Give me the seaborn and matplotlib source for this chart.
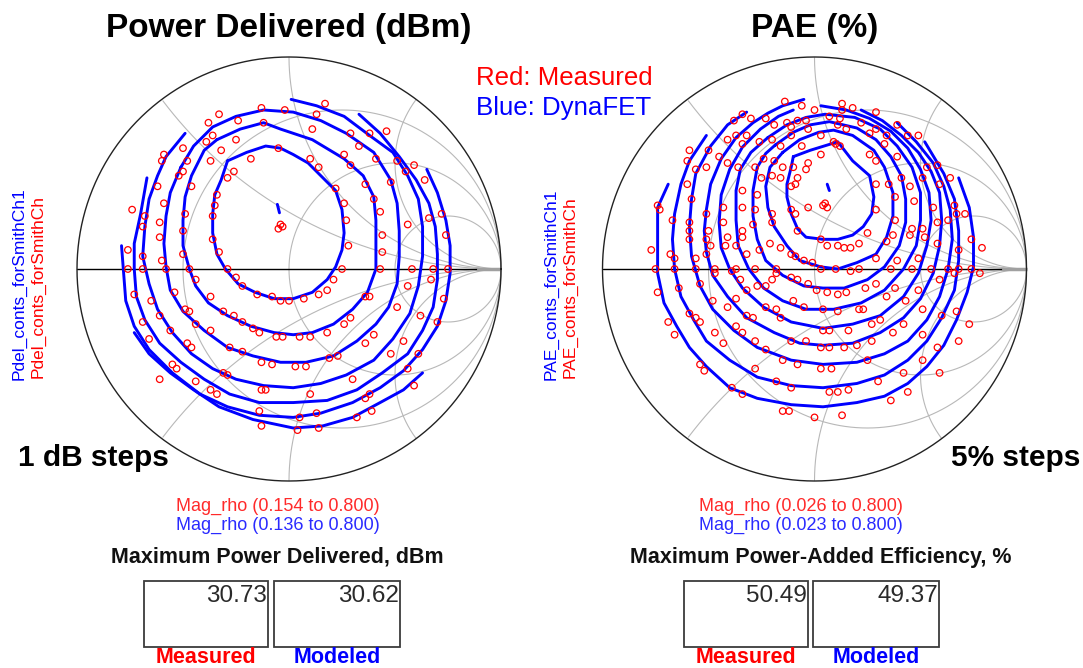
import numpy as np
import pandas as pd
import matplotlib
matplotlib.use("Agg")
import matplotlib.pyplot as plt
from matplotlib.patches import Rectangle
import seaborn as sns

sns.set_theme(style="white")
plt.rcParams['font.family'] = ['Liberation Sans', 'DejaVu Sans']
plt.rcParams['text.color'] = 'black'

# ---------------- DATA (reflection coefficient, real / imag) ----------------
pdel_model_contours = [
    [(-0.29,0.51),(-0.20,0.55),(-0.11,0.58),(-0.04,0.57),(0.02,0.54),(0.09,0.50),(0.16,0.43),(0.22,0.37),(0.25,0.28),(0.26,0.17),(0.25,0.09),(0.22,0.01),(0.18,-0.05),(0.11,-0.11),(0.02,-0.14),(-0.07,-0.14),(-0.16,-0.11),(-0.24,-0.07),(-0.30,0.00),(-0.34,0.07),(-0.36,0.17),(-0.36,0.26),(-0.35,0.35),(-0.32,0.42),(-0.29,0.51)],
    [(-0.34,0.61),(-0.23,0.66),(-0.12,0.69),(-0.04,0.66),(0.11,0.61),(0.26,0.52),(0.35,0.44),(0.40,0.34),(0.41,0.23),(0.41,0.11),(0.41,0.00),(0.37,-0.11),(0.30,-0.19),(0.21,-0.26),(0.11,-0.30),(0.02,-0.31),(-0.07,-0.30),(-0.18,-0.27),(-0.29,-0.22),(-0.38,-0.16),(-0.44,-0.08),(-0.47,0.00),(-0.50,0.11),(-0.50,0.23),(-0.49,0.34),(-0.46,0.44),(-0.40,0.56),(-0.34,0.61)],
    [(-0.51,0.48),(-0.45,0.58),(-0.36,0.67),(-0.25,0.72),(-0.12,0.75),(0.02,0.74),(0.15,0.70),(0.27,0.64),(0.40,0.55),(0.48,0.42),(0.51,0.31),(0.52,0.18),(0.52,0.06),(0.51,-0.07),(0.47,-0.18),(0.41,-0.26),(0.32,-0.34),(0.21,-0.41),(0.08,-0.44),(-0.04,-0.44),(-0.17,-0.41),(-0.29,-0.37),(-0.40,-0.29),(-0.50,-0.20),(-0.56,-0.10),(-0.58,0.01),(-0.59,0.12),(-0.58,0.25),(-0.56,0.36),(-0.51,0.48)],
    [(0.01,0.80),(0.13,0.77),(0.26,0.72),(0.38,0.63),(0.49,0.55),(0.56,0.44),(0.61,0.33),(0.63,0.20),(0.63,0.06),(0.61,-0.08),(0.57,-0.21),(0.49,-0.33),(0.40,-0.43),(0.27,-0.50),(0.15,-0.54),(0.02,-0.56),(-0.12,-0.55),(-0.25,-0.52),(-0.36,-0.47),(-0.46,-0.40),(-0.55,-0.30),(-0.62,-0.19),(-0.66,-0.07),(-0.69,0.06),(-0.68,0.20),(-0.66,0.33),(-0.62,0.44),(-0.58,0.53),(-0.49,0.64)],
    [(0.33,0.73),(0.43,0.64),(0.52,0.53),(0.60,0.42),(0.66,0.31),(0.69,0.20),(0.70,0.07),(0.70,-0.05),(0.68,-0.18),(0.63,-0.29),(0.56,-0.40),(0.44,-0.49),(0.32,-0.57),(0.18,-0.62),(0.02,-0.63),(-0.14,-0.63),(-0.28,-0.59),(-0.40,-0.52),(-0.51,-0.44),(-0.61,-0.35),(-0.68,-0.24),(-0.72,-0.13),(-0.73,0.00),(-0.73,0.12),(-0.70,0.26),(-0.67,0.43)],
    [(0.65,0.47),(0.70,0.36),(0.74,0.23),(0.76,0.11),(0.76,-0.02),(0.74,-0.15),(0.70,-0.27),(0.63,-0.38),(0.54,-0.48),(0.43,-0.56),(0.30,-0.63),(0.15,-0.68),(0.02,-0.70),(-0.14,-0.69),(-0.29,-0.65),(-0.42,-0.59),(-0.55,-0.49),(-0.66,-0.38),(-0.73,-0.27),(-0.77,-0.15),(-0.78,-0.02),(-0.79,0.11)],
    [(-0.73,-0.30),(-0.66,-0.40),(-0.56,-0.49),(-0.45,-0.57),(-0.33,-0.65),(-0.17,-0.71),(0.02,-0.75),(0.16,-0.74),(0.30,-0.70),(0.43,-0.63),(0.54,-0.57),(0.63,-0.49)],
    [(-0.055,0.305),(-0.05,0.285),(-0.045,0.265)],
]

pdel_meas = [
    (0.17,0.78),(-0.13,0.76),(-0.02,0.75),(0.13,0.73),(-0.33,0.73),(-0.24,0.70),(-0.38,0.69),(-0.12,0.69),(0.11,0.66),(0.46,0.65),
    (0.29,0.64),(0.38,0.64),(-0.36,0.63),(-0.39,0.60),(-0.25,0.61),(-0.32,0.56),(0.33,0.58),(-0.50,0.57),(-0.59,0.54),(-0.60,0.51),
    (-0.48,0.51),(-0.37,0.51),(-0.18,0.52),(-0.05,0.57),(0.10,0.52),(0.14,0.48),(0.26,0.54),(0.29,0.49),(0.41,0.52),(0.51,0.51),
    (0.59,0.49),(0.55,0.46),(0.64,0.42),(0.48,0.41),(0.36,0.40),(0.40,0.33),(0.22,0.38),(0.26,0.31),(0.27,0.23),(0.43,0.27),
    (0.56,0.21),(0.66,0.24),(0.72,0.26),(0.74,0.16),(0.44,0.16),(0.44,0.08),(0.28,0.11),(-0.26,0.46),(-0.29,0.43),(-0.52,0.44),
    (-0.50,0.46),(-0.46,0.39),(-0.62,0.39),(-0.74,0.28),(-0.68,0.25),(-0.69,0.20),(-0.61,0.22),(-0.59,0.31),(-0.61,0.15),(-0.50,0.18),
    (-0.49,0.26),(-0.35,0.30),(-0.34,0.35),(-0.36,0.25),(-0.36,0.14),(-0.33,0.08),(-0.50,0.07),(-0.76,0.09),(-0.69,0.06),(-0.60,0.04),
    (-0.58,0.00),(-0.76,0.00),(-0.69,0.00),(-0.47,0.00),(-0.29,0.00),(0.25,0.00),(0.43,0.00),(0.58,0.00),(0.68,0.00),(0.75,0.00),
    (0.56,-0.08),(0.67,-0.05),(0.73,-0.14),(0.21,-0.05),(0.18,-0.10),(0.14,-0.12),(0.07,-0.14),(0.00,-0.15),(-0.04,-0.15),(-0.08,-0.13),
    (-0.15,-0.12),(-0.22,-0.08),(-0.25,-0.04),(-0.44,-0.05),(-0.54,-0.11),(-0.73,-0.12),(-0.65,-0.15),(-0.61,-0.22),(-0.69,-0.25),(-0.56,-0.29),
    (-0.66,-0.33),(-0.49,-0.19),(-0.47,-0.20),(-0.44,-0.26),(-0.37,-0.29),(-0.37,-0.13),(-0.31,-0.20),(-0.26,-0.22),(-0.22,-0.25),(-0.17,-0.28),
    (-0.14,-0.30),(-0.06,-0.32),(-0.03,-0.32),(0.05,-0.32),(0.10,-0.32),(0.18,-0.30),(0.26,-0.26),(0.29,-0.23),(0.36,-0.13),(0.38,-0.13),
    (0.51,-0.18),(0.62,-0.22),(0.70,-0.25),(0.54,-0.34),(0.48,-0.40),(0.61,-0.40),(0.40,-0.31),(0.36,-0.35),(-0.48,-0.35),(-0.46,-0.37),
    (-0.28,-0.37),(-0.22,-0.39),(-0.13,-0.44),(-0.08,-0.45),(0.03,-0.46),(0.08,-0.46),(0.19,-0.42),(0.23,-0.41),(-0.61,-0.52),(-0.55,-0.45),
    (-0.53,-0.47),(-0.44,-0.53),(-0.37,-0.57),(-0.34,-0.59),(-0.31,-0.49),(-0.29,-0.50),(-0.13,-0.57),(-0.11,-0.57),(0.10,-0.59),(0.30,-0.52),
    (0.36,-0.61),(0.38,-0.59),(0.59,-0.55),(0.56,-0.47),(-0.14,-0.67),(0.05,-0.70),(0.13,-0.68),(0.32,-0.70),(0.39,-0.67),(-0.13,-0.74),
    (0.04,-0.76),(0.14,-0.75),(-0.04,0.21),(-0.03,0.20),(-0.05,0.19),
]

pae_model_contours = [
    [(-0.10,0.53),(-0.02,0.56),(0.11,0.60),(0.18,0.51),(0.26,0.44),(0.28,0.34),(0.27,0.26),(0.23,0.20),(0.18,0.16),(0.11,0.14),(0.04,0.14),(-0.04,0.15),(-0.08,0.19),(-0.11,0.26),(-0.13,0.34),(-0.13,0.40),(-0.11,0.48),(-0.10,0.53)],
    [(-0.15,0.55),(-0.07,0.61),(0.02,0.645),(0.09,0.655),(0.18,0.63),(0.28,0.56),(0.33,0.48),(0.37,0.36),(0.37,0.25),(0.34,0.15),(0.29,0.07),(0.20,0.03),(0.11,0.00),(0.03,0.01),(-0.07,0.04),(-0.13,0.11),(-0.19,0.20),(-0.22,0.29),(-0.23,0.39),(-0.21,0.48),(-0.15,0.55)],
    [(-0.185,0.585),(-0.10,0.645),(-0.02,0.68),(0.07,0.695),(0.20,0.665),(0.29,0.61),(0.36,0.53),(0.41,0.44),(0.43,0.33),(0.43,0.22),(0.40,0.11),(0.33,0.01),(0.25,-0.05),(0.14,-0.09),(0.04,-0.09),(-0.05,-0.08),(-0.15,-0.03),(-0.23,0.04),(-0.27,0.14),(-0.29,0.25),(-0.29,0.37),(-0.27,0.48),(-0.23,0.545),(-0.185,0.585)],
    [(-0.22,0.62),(-0.13,0.68),(-0.04,0.715),(0.05,0.73),(0.19,0.715),(0.31,0.66),(0.39,0.58),(0.46,0.48),(0.50,0.36),(0.50,0.23),(0.48,0.11),(0.42,0.00),(0.33,-0.10),(0.22,-0.16),(0.09,-0.19),(-0.04,-0.19),(-0.15,-0.15),(-0.24,-0.09),(-0.31,0.00),(-0.36,0.11),(-0.37,0.23),(-0.37,0.37),(-0.35,0.47),(-0.30,0.55),(-0.22,0.62)],
    [(-0.10,0.75),(-0.17,0.72),(-0.255,0.66),(-0.34,0.575),(-0.40,0.47),(-0.44,0.35),(-0.45,0.22),(-0.44,0.10),(-0.40,0.00),(-0.34,-0.09),(-0.24,-0.18),(-0.11,-0.25),(0.04,-0.28),(0.18,-0.26),(0.31,-0.22),(0.42,-0.13),(0.49,-0.02),(0.53,0.11),(0.55,0.23),(0.54,0.36),(0.50,0.47),(0.44,0.57),(0.36,0.65),(0.26,0.71),(0.15,0.75),(0.03,0.77)],
    [(-0.05,0.80),(-0.15,0.77),(-0.22,0.735),(-0.29,0.69),(-0.37,0.62),(-0.44,0.52),(-0.49,0.40),(-0.51,0.28),(-0.52,0.18),(-0.51,0.08),(-0.48,-0.03),(-0.41,-0.13),(-0.32,-0.23),(-0.19,-0.30),(-0.07,-0.35),(0.04,-0.36),(0.18,-0.35),(0.31,-0.30),(0.42,-0.23),(0.50,-0.14),(0.56,-0.02),(0.59,0.11),(0.60,0.23),(0.59,0.36),(0.55,0.46),(0.49,0.55),(0.41,0.63),(0.32,0.70),(0.22,0.75)],
    [(-0.32,0.74),(-0.41,0.68),(-0.49,0.58),(-0.56,0.45),(-0.58,0.33),(-0.59,0.20),(-0.58,0.06),(-0.54,-0.08),(-0.48,-0.19),(-0.38,-0.29),(-0.27,-0.37),(-0.11,-0.43),(0.04,-0.45),(0.20,-0.44),(0.33,-0.40),(0.44,-0.34),(0.53,-0.24),(0.59,-0.13),(0.63,0.00),(0.65,0.14),(0.64,0.28),(0.61,0.39),(0.56,0.50),(0.48,0.60),(0.39,0.69)],
    [(-0.51,0.63),(-0.59,0.51),(-0.63,0.40),(-0.66,0.26),(-0.67,0.14),(-0.66,0.00),(-0.63,-0.13),(-0.57,-0.24),(-0.51,-0.34),(-0.40,-0.43),(-0.27,-0.51),(-0.11,-0.55),(0.04,-0.56),(0.20,-0.54),(0.33,-0.50),(0.44,-0.43),(0.53,-0.34),(0.60,-0.23),(0.66,-0.10),(0.68,0.04),(0.68,0.18),(0.66,0.33),(0.61,0.45),(0.52,0.60)],
    [(-0.69,0.40),(-0.74,0.29),(-0.74,0.14),(-0.74,-0.02),(-0.71,-0.16),(-0.65,-0.27),(-0.59,-0.37),(-0.51,-0.46),(-0.40,-0.56),(-0.27,-0.61),(-0.11,-0.64),(0.04,-0.65),(0.20,-0.63),(0.33,-0.60),(0.44,-0.54),(0.53,-0.46),(0.61,-0.36),(0.67,-0.24),(0.72,-0.11),(0.75,0.01),(0.75,0.15),(0.73,0.29),(0.68,0.43)],
    [(0.06,0.40),(0.065,0.385),(0.07,0.37)],
]

pae_meas = [
    (-0.14,0.79),(-0.06,0.77),(0.13,0.78),(0.18,0.76),(0.29,0.74),(0.00,0.75),(0.13,0.75),(-0.34,0.73),(-0.38,0.70),(-0.30,0.71),
    (-0.23,0.71),(-0.19,0.68),(-0.13,0.69),(-0.08,0.70),(-0.04,0.70),(0.07,0.72),(0.12,0.71),(0.11,0.68),(0.15,0.66),(-0.03,0.66),
    (-0.11,0.67),(0.29,0.66),(0.39,0.68),(0.44,0.63),(0.49,0.63),(0.34,0.63),(0.26,0.64),(0.22,0.69),(-0.32,0.63),(-0.37,0.63),
    (-0.41,0.61),(-0.34,0.59),(-0.26,0.60),(-0.20,0.61),(-0.11,0.63),(-0.16,0.58),(-0.06,0.58),(0.03,0.54),(0.03,0.63),(0.09,0.60),
    (0.12,0.58),(0.26,0.54),(0.33,0.59),(0.39,0.53),(0.29,0.51),(-0.59,0.56),(-0.60,0.51),(-0.56,0.47),(-0.50,0.56),(-0.45,0.53),
    (-0.51,0.48),(-0.41,0.50),(-0.36,0.48),(-0.28,0.48),(-0.24,0.52),(-0.19,0.51),(-0.15,0.48),(-0.10,0.48),(-0.09,0.40),(-0.03,0.50),
    (-0.04,0.47),(-0.25,0.43),(-0.20,0.44),(-0.16,0.43),(-0.11,0.39),(-0.08,0.43),(0.29,0.40),(0.35,0.40),(0.38,0.34),(0.41,0.43),
    (0.45,0.39),(0.53,0.48),(0.58,0.49),(0.64,0.43),(0.59,0.40),(0.51,0.43),(0.47,0.32),(0.56,0.29),(0.66,0.30),(0.71,0.26),
    (0.29,0.28),(0.38,0.23),(0.46,0.19),(0.58,0.22),(0.63,0.23),(0.67,0.26),(-0.60,0.40),(-0.58,0.33),(-0.74,0.30),(-0.73,0.28),
    (-0.67,0.23),(-0.59,0.22),(-0.59,0.18),(-0.59,0.14),(-0.51,0.26),(-0.50,0.18),(-0.51,0.14),(-0.43,0.29),(-0.43,0.22),(-0.41,0.15),
    (-0.34,0.37),(-0.34,0.29),(-0.27,0.35),(-0.28,0.28),(-0.29,0.21),(-0.34,0.18),(-0.34,0.15),(-0.20,0.26),(-0.20,0.22),(-0.11,0.28),
    (-0.09,0.26),(-0.03,0.29),(-0.08,0.18),(0.03,0.14),(0.06,0.11),(0.11,0.11),(0.14,0.10),(0.17,0.10),(0.21,0.12),(0.25,0.17),
    (0.34,0.13),(0.37,0.16),(0.45,0.16),(0.51,0.19),(0.58,0.12),(0.68,0.09),(0.74,0.14),(0.79,0.10),(0.52,0.15),(0.49,0.05),
    (0.39,0.04),(0.29,0.05),(0.21,0.00),(0.17,-0.01),(0.10,0.00),(0.03,0.00),(-0.01,0.03),(-0.05,0.04),(-0.09,0.06),(-0.11,0.07),
    (-0.16,0.10),(-0.21,0.12),(-0.26,0.09),(-0.32,0.07),(-0.37,0.11),(-0.42,0.11),(-0.49,0.11),(-0.51,0.07),(-0.56,0.05),(-0.66,0.05),
    (-0.68,0.07),(-0.77,0.09),(-0.75,0.00),(-0.66,0.00),(-0.56,0.00),(-0.47,0.00),(-0.37,0.00),(-0.28,0.00),(-0.18,0.00),(0.36,0.00),
    (0.46,0.00),(0.55,0.00),(0.63,0.00),(0.68,0.00),(0.74,0.00),(0.78,-0.02),(-0.74,-0.11),(-0.64,-0.09),(-0.54,-0.07),(-0.47,-0.02),
    (-0.39,-0.01),(-0.35,-0.05),(-0.32,-0.10),(-0.27,-0.08),(-0.23,-0.08),(-0.20,-0.05),(-0.18,-0.02),(-0.11,-0.04),(-0.08,-0.05),(-0.03,-0.07),
    (0.01,-0.10),(0.06,-0.11),(0.11,-0.12),(0.15,-0.11),(0.24,-0.09),(0.29,-0.07),(0.34,-0.13),(0.38,-0.09),(0.43,-0.15),(0.49,-0.10),
    (0.59,-0.05),(0.66,-0.02),(0.51,-0.19),(0.60,-0.22),(0.67,-0.20),(0.73,-0.26),(0.68,-0.34),(-0.69,-0.25),(-0.66,-0.31),(-0.59,-0.21),
    (-0.56,-0.23),(-0.54,-0.25),(-0.48,-0.15),(-0.47,-0.30),(-0.43,-0.35),(-0.41,-0.18),(-0.37,-0.14),(-0.32,-0.22),(-0.29,-0.23),(-0.23,-0.18),
    (-0.18,-0.19),(-0.16,-0.23),(-0.10,-0.15),(-0.05,-0.18),(0.04,-0.19),(0.11,-0.20),(0.21,-0.19),(0.23,-0.19),(0.27,-0.26),(0.31,-0.24),
    (0.37,-0.30),(0.42,-0.26),(0.51,-0.31),(0.58,-0.37),(0.51,-0.43),(-0.37,-0.27),(-0.34,-0.30),(-0.28,-0.34),(-0.23,-0.38),(-0.15,-0.43),
    (-0.08,-0.45),(-0.11,-0.34),(-0.04,-0.34),(0.04,-0.29),(0.07,-0.29),(0.16,-0.29),(0.20,-0.36),(0.27,-0.34),(0.03,-0.37),(0.07,-0.37),
    (0.14,-0.37),(-0.54,-0.45),(-0.52,-0.48),(-0.39,-0.56),(-0.34,-0.59),(-0.28,-0.47),(-0.18,-0.53),(-0.11,-0.56),(0.03,-0.47),(0.08,-0.47),
    (0.25,-0.43),(0.42,-0.49),(0.59,-0.49),(0.30,-0.53),(0.36,-0.62),(0.44,-0.58),(0.07,-0.58),(0.11,-0.58),(0.16,-0.57),(-0.15,-0.67),
    (-0.12,-0.67),(0.00,-0.70),(0.13,-0.69),(0.04,0.30),(0.06,0.29),(0.05,0.31),(0.10,0.59),
]

pdel_range_meas = "Mag_rho (0.154 to 0.800)"
pdel_range_model = "Mag_rho (0.136 to 0.800)"
pae_range_meas = "Mag_rho (0.026 to 0.800)"
pae_range_model = "Mag_rho (0.023 to 0.800)"
pdel_max = [30.73, 30.62]
pae_max = [50.49, 49.37]
box_labels = ["Measured", "Modeled"]

# ---------------- FIGURE ----------------
W, H = 1083, 668
fig = plt.figure(figsize=(W / 100, H / 100), dpi=100)
RED = "#ff0000"
BLUE = "#0000ff"
GRID = "#b8b8b8"
LIM = 1.02
R_PX = 212


def fx(x):
    return x / W


def fy(y):
    return 1 - y / H


def smith_axes(cx, cy):
    size = 2 * LIM * R_PX
    ax = fig.add_axes([fx(cx - size / 2), fy(cy + size / 2), size / W, size / H])
    ax.set_xlim(-LIM, LIM)
    ax.set_ylim(-LIM, LIM)
    ax.set_aspect("equal")
    ax.axis("off")
    t = np.linspace(0, 2 * np.pi, 721)
    for r in [1 / 3, 1, 3]:
        c, rad = r / (r + 1), 1 / (r + 1)
        ax.plot(c + rad * np.cos(t), rad * np.sin(t), color=GRID, lw=0.8, zorder=1)
    th = np.linspace(np.pi / 2, 3 * np.pi / 2, 600)
    for xv in [0.5, 1, 2]:
        for s in [1, -1]:
            re = 1 + np.cos(th) / xv
            im = s * (1 + np.sin(th)) / xv
            m = re ** 2 + im ** 2 <= 1.0001
            ax.plot(re[m], im[m], color=GRID, lw=0.8, zorder=1)
    ax.plot([0.88, 1.0], [0, 0], color="#a0a0a0", lw=2.5, zorder=1, solid_capstyle="butt")
    ax.plot([-1, 0.88], [0, 0], color="black", lw=1.0, zorder=2)
    ax.plot(np.cos(t), np.sin(t), color="#222222", lw=1.0, zorder=2)
    return ax


def draw(ax, contours, meas):
    rows = []
    for k, cont in enumerate(contours):
        for i, (re, im) in enumerate(cont):
            rows.append({"contour": k, "order": i, "re": re, "im": im})
    df = pd.DataFrame(rows)
    sns.lineplot(data=df, x="re", y="im", units="contour", estimator=None, sort=False,
                 color=BLUE, lw=2.1, ax=ax, zorder=3, legend=False)
    mdf = pd.DataFrame(meas, columns=["re", "im"])
    sns.scatterplot(data=mdf, x="re", y="im", marker="o", s=22, facecolors="none",
                    edgecolors=RED, linewidths=0.9, ax=ax, zorder=4, legend=False)
    ax.set_xlim(-LIM, LIM)
    ax.set_ylim(-LIM, LIM)
    ax.axis("off")


axL = smith_axes(289, 269)
draw(axL, pdel_model_contours, pdel_meas)
axR = smith_axes(814.5, 269)
draw(axR, pae_model_contours, pae_meas)

# titles
fig.text(fx(289), fy(37), "Power Delivered (dBm)", ha="center", va="baseline",
         fontsize=24, fontweight="bold", color="black")
fig.text(fx(815), fy(37), "PAE (%)", ha="center", va="baseline",
         fontsize=24, fontweight="bold", color="black")
fig.text(fx(476), fy(85), "Red: Measured", ha="left", va="baseline", fontsize=18.6, color=RED)
fig.text(fx(476), fy(115), "Blue: DynaFET", ha="left", va="baseline", fontsize=18.6, color=BLUE)

# rotated series names
ROT_FS = 12.5
fig.text(fx(19), fy(380), "Pdel_conts_forSmithCh1", rotation=90, ha="center", va="bottom",
         fontsize=ROT_FS, color=BLUE)
fig.text(fx(38), fy(378), "Pdel_conts_forSmithCh", rotation=90, ha="center", va="bottom",
         fontsize=ROT_FS, color=RED)
fig.text(fx(551), fy(380), "PAE_conts_forSmithCh1", rotation=90, ha="center", va="bottom",
         fontsize=ROT_FS, color=BLUE)
fig.text(fx(570), fy(378), "PAE_conts_forSmithCh", rotation=90, ha="center", va="bottom",
         fontsize=ROT_FS, color=RED)

# step notes
fig.text(fx(18), fy(466), "1 dB steps", ha="left", va="baseline", fontsize=21.5,
         fontweight="bold", color="black")
fig.text(fx(1080), fy(466), "5% steps", ha="right", va="baseline", fontsize=21.5,
         fontweight="bold", color="black")

# ranges
fig.text(fx(278), fy(511), pdel_range_meas, ha="center", va="baseline", fontsize=13, color="#ff2a2a")
fig.text(fx(278), fy(530), pdel_range_model, ha="center", va="baseline", fontsize=13, color="#2a2aff")
fig.text(fx(801), fy(511), pae_range_meas, ha="center", va="baseline", fontsize=13, color="#ff2a2a")
fig.text(fx(801), fy(530), pae_range_model, ha="center", va="baseline", fontsize=13, color="#2a2aff")

# max headings
fig.text(fx(277), fy(563), "Maximum Power Delivered, dBm", ha="center", va="baseline",
         fontsize=15.5, fontweight="bold", color="#111111")
fig.text(fx(821), fy(563), "Maximum Power-Added Efficiency, %", ha="center", va="baseline",
         fontsize=15.5, fontweight="bold", color="#111111")


def value_boxes(boxes, values):
    for (x0, x1), val, lab, col in zip(boxes, values, box_labels, [RED, BLUE]):
        fig.patches.append(Rectangle((fx(x0), fy(647)), (x1 - x0) / W, (647 - 581) / H,
                                     transform=fig.transFigure, fill=False,
                                     edgecolor="#3c3c3c", lw=1.3))
        fig.text(fx(x1 - 1), fy(602), f"{val:.2f}", ha="right", va="baseline",
                 fontsize=17.5, color="#2a2a2a")
        fig.text(fx((x0 + x1) / 2), fy(663), lab, ha="center", va="baseline",
                 fontsize=15.5, fontweight="bold", color=col)


value_boxes([(144, 268), (274, 400)], pdel_max)
value_boxes([(684, 808), (813, 939)], pae_max)

fig.savefig("out.png", dpi=100)
